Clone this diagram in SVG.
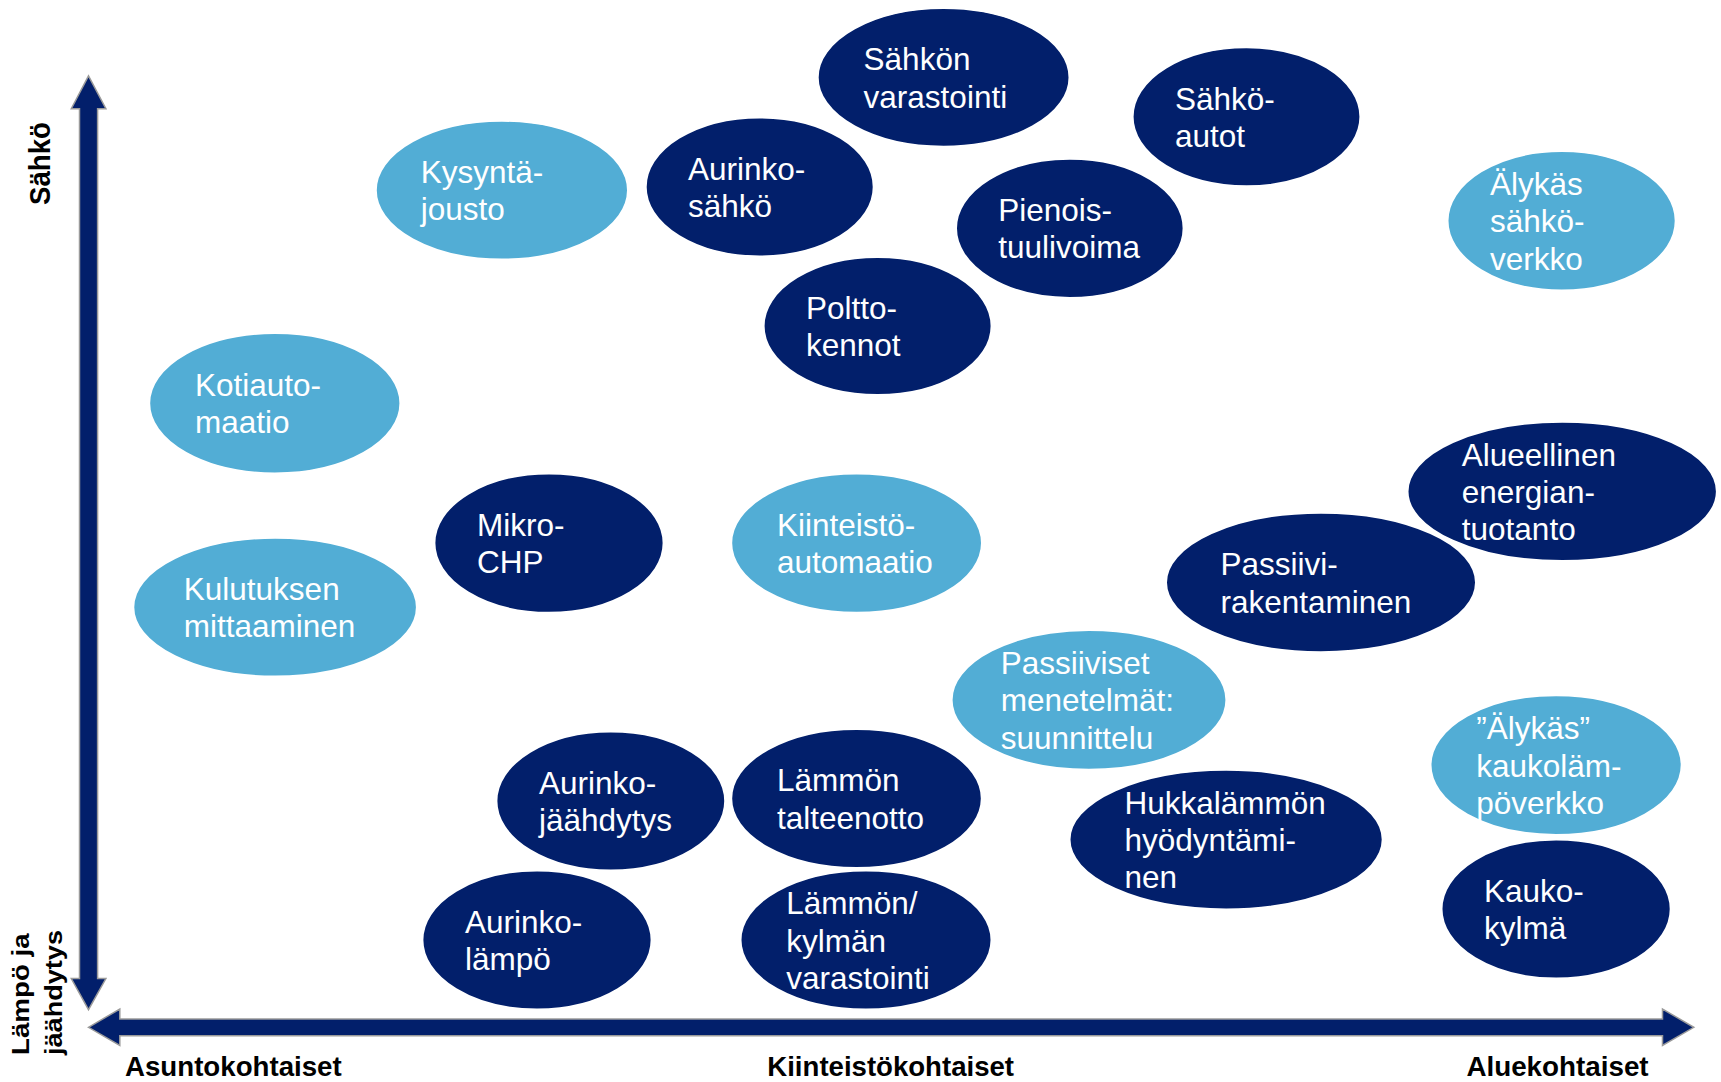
<svg xmlns="http://www.w3.org/2000/svg" width="1721" height="1082" viewBox="0 0 1721 1082">
<style>
.dark{fill:#021f6b;stroke:#ffffff;stroke-width:2}
.light{fill:#52add5;stroke:#ffffff;stroke-width:2}
.nt{font-family:"Liberation Sans",Arial,sans-serif;font-size:31.5px;fill:#ffffff}
.ax{font-family:"Liberation Sans",Arial,sans-serif;font-weight:bold;font-size:27px;fill:#000000}
.arrow{fill:#021f6b;stroke:#9a9a9a;stroke-width:1.5}
</style>
<rect x="0" y="0" width="1721" height="1082" fill="#ffffff"/>
<g id="connectors">
<polygon class="arrow" points="88.5,75.9 105.9,108.7 97.6,108.7 97.6,978.5 105.9,978.5 88.5,1009.6 71.3,978.5 79.5,978.5 79.5,108.7 71.3,108.7"/>
<polygon class="arrow" points="88.5,1027.3 119.8,1009.0 119.8,1019.0 1662.5,1019.0 1662.5,1009.0 1693.8,1027.3 1662.5,1045.5 1662.5,1035.8 119.8,1035.8 119.8,1045.5"/>
</g>
<g id="axis-labels">
<text class="ax" transform="translate(50,205) rotate(-90)" style="font-size:30px" textLength="83" lengthAdjust="spacingAndGlyphs">Sähkö</text>
<text class="ax" transform="translate(28.5,1055) rotate(-90)" style="font-size:23px" textLength="121.7" lengthAdjust="spacingAndGlyphs">Lämpö ja</text>
<text class="ax" transform="translate(62,1055) rotate(-90)" style="font-size:23px" textLength="125" lengthAdjust="spacingAndGlyphs">jäähdytys</text>
<text class="ax" x="125" y="1075.5" textLength="216.7" lengthAdjust="spacingAndGlyphs">Asuntokohtaiset</text>
<text class="ax" x="767.3" y="1075.5" textLength="246.7" lengthAdjust="spacingAndGlyphs">Kiinteistökohtaiset</text>
<text class="ax" x="1466.4" y="1075.5" textLength="182.2" lengthAdjust="spacingAndGlyphs">Aluekohtaiset</text>
</g>
<g id="sahkon-varastointi">
<ellipse class="dark" cx="943.6" cy="77.4" rx="125.9" ry="69.3"/>
<text class="nt" x="863.6" y="70.25">Sähkön</text>
<text class="nt" x="863.6" y="107.55">varastointi</text>
</g>
<g id="sahkoautot">
<ellipse class="dark" cx="1246.5" cy="116.8" rx="113.9" ry="69.5"/>
<text class="nt" x="1174.9" y="109.65">Sähkö-</text>
<text class="nt" x="1174.9" y="146.95">autot</text>
</g>
<g id="kysyntajousto">
<ellipse class="light" cx="501.9" cy="190.2" rx="126.1" ry="69.4"/>
<text class="nt" x="420.7" y="183.05">Kysyntä-</text>
<text class="nt" x="420.7" y="220.35">jousto</text>
</g>
<g id="aurinkosahko">
<ellipse class="dark" cx="759.7" cy="186.9" rx="114" ry="69.5"/>
<text class="nt" x="688" y="179.75">Aurinko-</text>
<text class="nt" x="688" y="217.05">sähkö</text>
</g>
<g id="pienoistuulivoima">
<ellipse class="dark" cx="1069.8" cy="228.3" rx="113.8" ry="69.6"/>
<text class="nt" x="998.3" y="221.15">Pienois-</text>
<text class="nt" x="998.3" y="258.45">tuulivoima</text>
</g>
<g id="polttokennot">
<ellipse class="dark" cx="877.6" cy="326" rx="114" ry="69"/>
<text class="nt" x="806" y="318.85">Poltto-</text>
<text class="nt" x="806" y="356.15">kennot</text>
</g>
<g id="alykas-sahkoverkko">
<ellipse class="light" cx="1561.6" cy="220.8" rx="114.1" ry="69.7"/>
<text class="nt" x="1489.9" y="195">Älykäs</text>
<text class="nt" x="1489.9" y="232.3">sähkö-</text>
<text class="nt" x="1489.9" y="269.6">verkko</text>
</g>
<g id="kotiautomaatio">
<ellipse class="light" cx="274.8" cy="403.2" rx="125.6" ry="70.2"/>
<text class="nt" x="195" y="396.05">Kotiauto-</text>
<text class="nt" x="195" y="433.35">maatio</text>
</g>
<g id="mikrochp">
<ellipse class="dark" cx="549" cy="543.1" rx="114.6" ry="69.7"/>
<text class="nt" x="477" y="535.95">Mikro-</text>
<text class="nt" x="477" y="573.25">CHP</text>
</g>
<g id="kiinteistoautomaatio">
<ellipse class="light" cx="856.6" cy="543.1" rx="125.4" ry="69.7"/>
<text class="nt" x="776.9" y="535.95">Kiinteistö-</text>
<text class="nt" x="776.9" y="573.25">automaatio</text>
</g>
<g id="kulutuksen-mittaaminen">
<ellipse class="light" cx="275.1" cy="607.2" rx="141.8" ry="69.4"/>
<text class="nt" x="183.8" y="600.05">Kulutuksen</text>
<text class="nt" x="183.8" y="637.35">mittaaminen</text>
</g>
<g id="passiivirakentaminen">
<ellipse class="dark" cx="1321" cy="582.4" rx="155" ry="69.75"/>
<text class="nt" x="1220.4" y="575.25">Passiivi-</text>
<text class="nt" x="1220.4" y="612.55">rakentaminen</text>
</g>
<g id="alueellinen-energiantuotanto">
<ellipse class="dark" cx="1562.2" cy="491.4" rx="154.7" ry="69.7"/>
<text class="nt" x="1461.8" y="465.6">Alueellinen</text>
<text class="nt" x="1461.8" y="502.9">energian-</text>
<text class="nt" x="1461.8" y="540.2">tuotanto</text>
</g>
<g id="passiiviset-menetelmat">
<ellipse class="light" cx="1089" cy="699.9" rx="137.4" ry="69.9"/>
<text class="nt" x="1000.8" y="674.1">Passiiviset</text>
<text class="nt" x="1000.8" y="711.4">menetelmät:</text>
<text class="nt" x="1000.8" y="748.7">suunnittelu</text>
</g>
<g id="aurinkojaahdytys">
<ellipse class="dark" cx="610.8" cy="801" rx="114.4" ry="69.5"/>
<text class="nt" x="538.9" y="793.85">Aurinko-</text>
<text class="nt" x="538.9" y="831.15">jäähdytys</text>
</g>
<g id="lammon-talteenotto">
<ellipse class="dark" cx="856.5" cy="798.5" rx="125.3" ry="69.5"/>
<text class="nt" x="776.9" y="791.35">Lämmön</text>
<text class="nt" x="776.9" y="828.65">talteenotto</text>
</g>
<g id="aurinkolampo">
<ellipse class="dark" cx="537" cy="940" rx="114.6" ry="69.5"/>
<text class="nt" x="465" y="932.85">Aurinko-</text>
<text class="nt" x="465" y="970.15">lämpö</text>
</g>
<g id="lammon-kylman-varastointi">
<ellipse class="dark" cx="866" cy="940" rx="125.5" ry="69.5"/>
<text class="nt" x="786.3" y="914.2">Lämmön/</text>
<text class="nt" x="786.3" y="951.5">kylmän</text>
<text class="nt" x="786.3" y="988.8">varastointi</text>
</g>
<g id="hukkalammon-hyodyntaminen">
<ellipse class="dark" cx="1226.1" cy="839.6" rx="156.6" ry="69.8"/>
<text class="nt" x="1124.4" y="813.8">Hukkalämmön</text>
<text class="nt" x="1124.4" y="851.1">hyödyntämi-</text>
<text class="nt" x="1124.4" y="888.4">nen</text>
</g>
<g id="alykas-kaukolampoverkko">
<ellipse class="light" cx="1556.1" cy="765.1" rx="125.6" ry="69.9"/>
<text class="nt" x="1476.3" y="739.3">”Älykäs”</text>
<text class="nt" x="1476.3" y="776.6">kaukoläm-</text>
<text class="nt" x="1476.3" y="813.9">pöverkko</text>
</g>
<g id="kaukokylma">
<ellipse class="dark" cx="1556.1" cy="909" rx="114.6" ry="69.5"/>
<text class="nt" x="1484" y="901.85">Kauko-</text>
<text class="nt" x="1484" y="939.15">kylmä</text>
</g>
</svg>
